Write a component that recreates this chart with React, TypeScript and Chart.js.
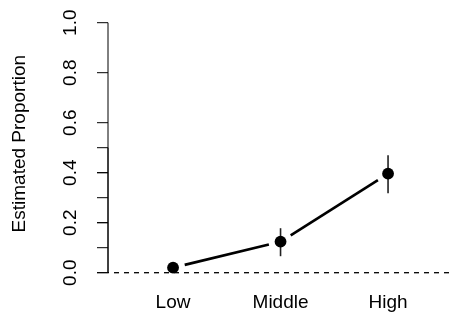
import React, { useEffect, useRef } from 'react';
import { Chart, registerables } from 'chart.js';

Chart.register(...registerables);

const categories = ['Low', 'Middle', 'High'];
const estimates = [0.02, 0.124, 0.396];
const lowerBounds = [0.005, 0.066, 0.318];
const upperBounds = [0.04, 0.178, 0.47];
const yTickValues = [0, 0.2, 0.4, 0.6, 0.8, 1.0];
const yTickLabels = ['0.0', '0.2', '0.4', '0.6', '0.8', '1.0'];
const yMinorTickValues = [0, 0.1, 0.2, 0.3, 0.4, 0.5];
const yAxisTitle = 'Estimated Proportion';
const referenceLineValue = 0;

const FONT = '19px "Liberation Sans", Arial, Helvetica, sans-serif';

const rPlotPlugin = {
  id: 'rPlot',
  beforeDatasetsDraw(chart: any) {
    const ctx = chart.ctx;
    const xs = chart.scales.x;
    const ys = chart.scales.y;
    const area = chart.chartArea;
    ctx.save();
    // dashed reference line
    const y0 = ys.getPixelForValue(referenceLineValue);
    ctx.beginPath();
    ctx.setLineDash([5, 5]);
    ctx.lineDashOffset = 4;
    ctx.lineWidth = 1.3;
    ctx.strokeStyle = '#000';
    ctx.moveTo(area.left, y0);
    ctx.lineTo(area.right, y0);
    ctx.stroke();
    ctx.setLineDash([]);

    // connecting line with gaps around points
    const gap = 12;
    ctx.lineWidth = 2.6;
    ctx.lineCap = 'butt';
    for (let i = 0; i < estimates.length - 1; i++) {
      const x1 = xs.getPixelForValue(i + 1);
      const y1 = ys.getPixelForValue(estimates[i]);
      const x2 = xs.getPixelForValue(i + 2);
      const y2 = ys.getPixelForValue(estimates[i + 1]);
      const d = Math.hypot(x2 - x1, y2 - y1);
      const ux = (x2 - x1) / d;
      const uy = (y2 - y1) / d;
      ctx.beginPath();
      ctx.moveTo(x1 + ux * gap, y1 + uy * gap);
      ctx.lineTo(x2 - ux * gap, y2 - uy * gap);
      ctx.stroke();
    }

    // error bars
    ctx.lineWidth = 1.6;
    ctx.strokeStyle = '#222';
    for (let i = 0; i < estimates.length; i++) {
      const x = xs.getPixelForValue(i + 1);
      ctx.beginPath();
      ctx.moveTo(x, ys.getPixelForValue(lowerBounds[i]));
      ctx.lineTo(x, ys.getPixelForValue(upperBounds[i]));
      ctx.stroke();
    }
    ctx.restore();
  },
  afterDraw(chart: any) {
    const ctx = chart.ctx;
    const xs = chart.scales.x;
    const ys = chart.scales.y;
    const area = chart.chartArea;
    ctx.save();
    const ax = area.left;
    const tickLen = 11;
    ctx.strokeStyle = '#000';
    ctx.lineWidth = 1;
    // main axis
    ctx.beginPath();
    ctx.moveTo(ax, ys.getPixelForValue(yTickValues[0]));
    ctx.lineTo(ax, ys.getPixelForValue(yTickValues[yTickValues.length - 1]));
    for (const v of yTickValues) {
      const y = ys.getPixelForValue(v);
      ctx.moveTo(ax, y);
      ctx.lineTo(ax - tickLen, y);
    }
    ctx.stroke();
    // minor axis
    ctx.beginPath();
    ctx.moveTo(ax, ys.getPixelForValue(yMinorTickValues[0]));
    ctx.lineTo(ax, ys.getPixelForValue(yMinorTickValues[yMinorTickValues.length - 1]));
    for (const v of yMinorTickValues) {
      const y = ys.getPixelForValue(v);
      ctx.moveTo(ax, y);
      ctx.lineTo(ax - tickLen, y);
    }
    ctx.stroke();

    ctx.fillStyle = '#000';
    ctx.font = FONT;
    ctx.textAlign = 'center';
    ctx.textBaseline = 'middle';
    // y tick labels (rotated)
    yTickValues.forEach((v, i) => {
      const y = ys.getPixelForValue(v);
      ctx.save();
      ctx.translate(70.5, y);
      ctx.rotate(-Math.PI / 2);
      ctx.fillText(yTickLabels[i], 0, 0);
      ctx.restore();
    });
    // y axis title
    ctx.save();
    ctx.translate(19.5, (area.top + area.bottom) / 2 - 4);
    ctx.rotate(-Math.PI / 2);
    ctx.fillText(yAxisTitle, 0, 0);
    ctx.restore();
    // x category labels
    categories.forEach((c, i) => {
      ctx.fillText(c, xs.getPixelForValue(i + 1), 303);
    });
    ctx.restore();
  },
};

export default function App() {
  const canvasRef = useRef<HTMLCanvasElement | null>(null);

  useEffect(() => {
    document.body.style.margin = '0';
    const canvas = canvasRef.current;
    if (!canvas) return;
    const chart = new Chart(canvas, {
      type: 'scatter',
      data: {
        datasets: [
          {
            data: estimates.map((v, i) => ({ x: i + 1, y: v })),
            showLine: false,
            pointRadius: 5.9,
            pointHoverRadius: 5.9,
            pointBackgroundColor: '#000',
            pointBorderColor: '#000',
            pointBorderWidth: 0,
          },
        ],
      },
      options: {
        responsive: false,
        animation: false,
        devicePixelRatio: 1,
        layout: { autoPadding: false, padding: { left: 108, right: 0, top: 12.7, bottom: 39.3 } },
        scales: {
          x: { type: 'linear', min: 0.395, max: 3.567, display: false },
          y: { type: 'linear', min: -0.04, max: 1.04, display: false },
        },
        plugins: {
          legend: { display: false },
          tooltip: { enabled: false },
        },
      },
      plugins: [rPlotPlugin],
    });
    return () => chart.destroy();
  }, []);

  return (
    <div style={{ width: 449, height: 322, background: '#fff' }}>
      <canvas ref={canvasRef} width={449} height={322} style={{ display: 'block' }} />
    </div>
  );
}
